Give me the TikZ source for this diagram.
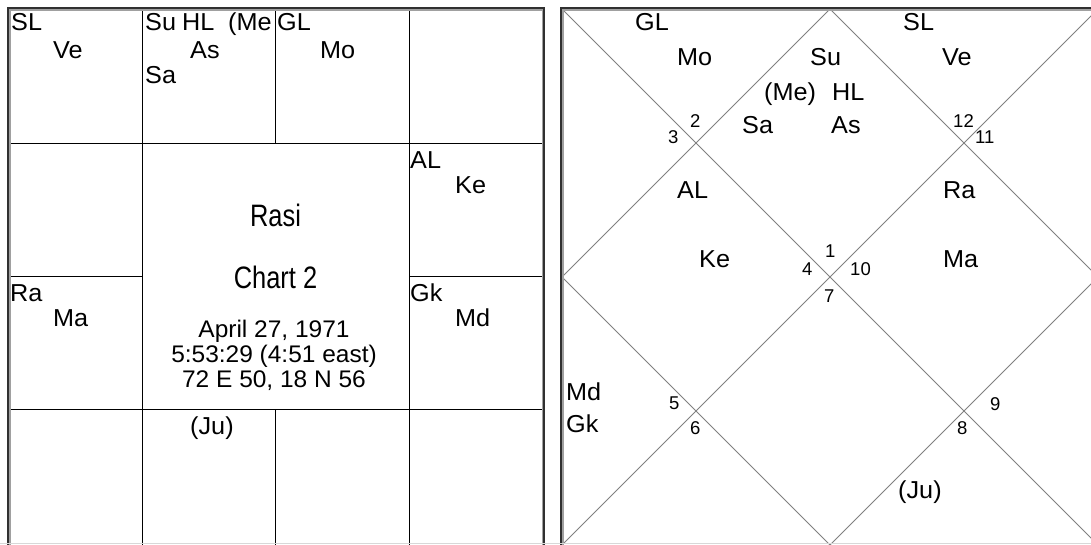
\documentclass[tikz,border=0pt]{standalone}
\usepackage{fontspec}
\setmainfont{Liberation Sans}
\newfontfamily\labfont{Liberation Sans}[FakeStretch=1.03]
\newfontfamily\titlefont{Liberation Sans}[FakeStretch=0.82]
\newfontfamily\datefont{Liberation Sans}[FakeStretch=1.02]
\newfontfamily\numfont{Liberation Sans}
\definecolor{darkb}{HTML}{303030}
\definecolor{lightb}{HTML}{A0A0A0}
\definecolor{diagc}{HTML}{808080}
\definecolor{edgec}{HTML}{D8D8D8}
\tikzset{
 lab/.style={anchor=base west, inner sep=0pt, font=\labfont\fontsize{24.5}{24.5}\selectfont},
 num/.style={anchor=base west, inner sep=0pt, font=\numfont\fontsize{18.5}{18.5}\selectfont},
 ttl/.style={anchor=base, inner sep=0pt, font=\titlefont\fontsize{31}{31}\selectfont},
 dat/.style={anchor=base, inner sep=0pt, font=\datefont\fontsize{24}{24}\selectfont},
 gridl/.style={black, line width=1pt},
 outerb/.style={darkb, line width=2pt},
 innerb/.style={lightb, line width=1.5pt},
 diagl/.style={diagc, line width=1pt}
}
\begin{document}
\begin{tikzpicture}[x=1pt,y=-1pt]
\useasboundingbox (0,0) rectangle (1091,544);
\fill[white] (0,0) rectangle (1091,544);
% ---------- left chart grid ----------
\draw[gridl] (142,9) -- (142,560);
\draw[gridl] (409,9) -- (409,560);
\draw[gridl] (275,9) -- (275,143);
\draw[gridl] (275,409) -- (275,560);
\draw[gridl] (8,143) -- (543,143);
\draw[gridl] (8,409) -- (543,409);
\draw[gridl] (8,276) -- (142,276);
\draw[gridl] (409,276) -- (543,276);
\draw[innerb] (9.75,560) -- (9.75,9.75) -- (542.25,9.75) -- (542.25,560);
\draw[outerb] (8,560) -- (8,8) -- (544,8) -- (544,560);
% ---------- right chart ----------
\coordinate (tl) at (562,9);
\coordinate (tr) at (1098,9);
\coordinate (bl) at (562,545);
\coordinate (br) at (1098,545);
\coordinate (tm) at (830,9);
\coordinate (rm) at (1098,277);
\coordinate (bm) at (830,545);
\coordinate (lm) at (562,277);
\draw[diagl] (tl) -- (br);
\draw[diagl] (tr) -- (bl);
\draw[diagl] (tm) -- (rm) -- (bm) -- (lm) -- cycle;
\draw[innerb] (562.75,560) -- (562.75,9.75) -- (1100,9.75);
\draw[outerb] (561,560) -- (561,8) -- (1100,8);
\draw[edgec, line width=1pt] (0,543.5) -- (1091,543.5);
% ---------- left chart texts ----------
\node[lab] (lSL) at (11,30) {SL};
\node[lab] (lVe) at (53,58) {Ve};
\node[lab] (lSu) at (145,30) {Su};
\node[lab] (lHL) at (182,30) {HL};
\node[lab] (lMe) at (228,30) {(Me};
\node[lab] (lAs) at (190,58) {As};
\node[lab] (lSa) at (145,83) {Sa};
\node[lab] (lGL) at (277,30) {GL};
\node[lab] (lMo) at (320,58) {Mo};
\node[lab] (lAL) at (410,168) {AL};
\node[lab] (lKe) at (455,193) {Ke};
\node[lab] (lRa) at (10,301) {Ra};
\node[lab] (lMa) at (53,326) {Ma};
\node[lab] (lGk) at (410,301) {Gk};
\node[lab] (lMd) at (455,326) {Md};
\node[lab] (lJu) at (190,434) {(Ju)};
\node[ttl] (rasi) at (275.5,226) {Rasi};
\node[ttl] (chart) at (275.5,288) {Chart 2};
\node[dat] (d1) at (274,337) {April 27, 1971};
\node[dat] (d2) at (274,362) {5:53:29 (4:51 east)};
\node[dat] (d3) at (274,387) {72 E 50, 18 N 56};
% ---------- right chart texts ----------
\node[lab] (rGL) at (635,30) {GL};
\node[lab] (rMo) at (677,65) {Mo};
\node[lab] (rSu) at (810,65) {Su};
\node[lab] (rMe) at (764,100) {(Me)};
\node[lab] (rHL) at (832,100) {HL};
\node[lab] (rSa) at (742,133) {Sa};
\node[lab] (rAs) at (831,133) {As};
\node[lab] (rSL) at (903,30) {SL};
\node[lab] (rVe) at (942,65) {Ve};
\node[lab] (rAL) at (677,198) {AL};
\node[lab] (rKe) at (699,267) {Ke};
\node[lab] (rRa) at (943,198) {Ra};
\node[lab] (rMa) at (943,267) {Ma};
\node[lab] (rMd) at (566,400) {Md};
\node[lab] (rGk) at (566,432) {Gk};
\node[lab] (rJu) at (898,498) {(Ju)};
\node[num] (n2) at (690,127) {2};
\node[num] (n3) at (668,143) {3};
\node[num] (n12) at (953,127) {12};
\node[num] (n11) at (975,143) {11};
\node[num] (n1) at (825,257) {1};
\node[num] (n4) at (802,275) {4};
\node[num] (n10) at (850,275) {10};
\node[num] (n7) at (824,302) {7};
\node[num] (n5) at (669,409) {5};
\node[num] (n6) at (690,434) {6};
\node[num] (n9) at (990,410) {9};
\node[num] (n8) at (957,434) {8};
\end{tikzpicture}
\end{document}
